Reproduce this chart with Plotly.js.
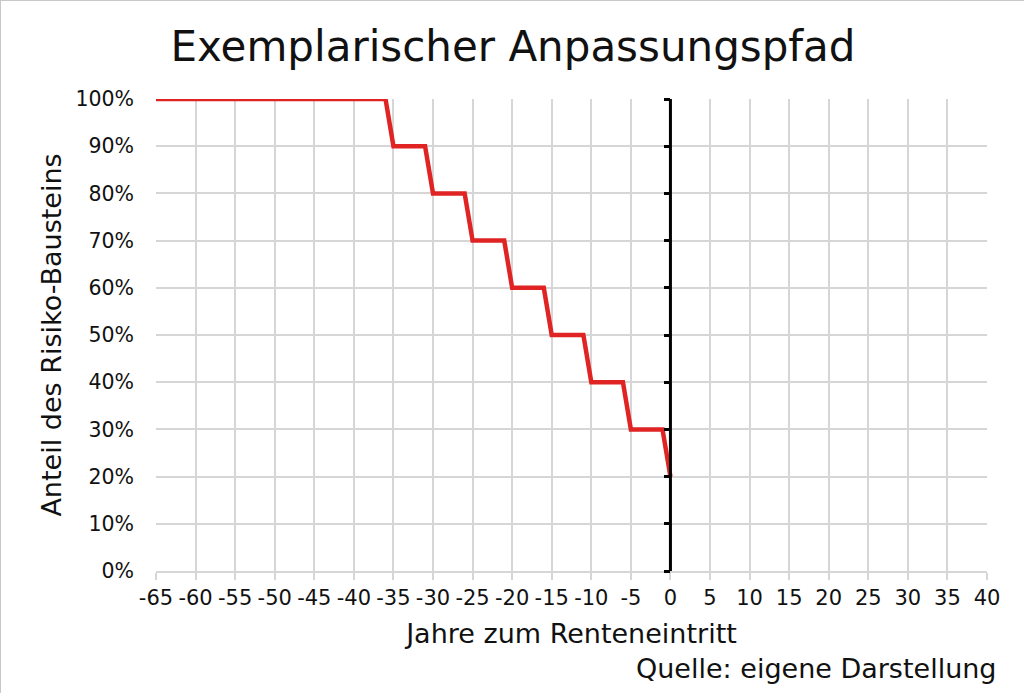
<!DOCTYPE html>
<html><head><meta charset="utf-8">
<script src="https://cdn.plot.ly/plotly-3.0.1.min.js"></script>
<style>html,body{margin:0;padding:0;background:#fff;}#chart{width:1024px;height:693px;box-sizing:border-box;border:1px solid #c8c8c8;}</style>
</head><body><div id="chart"></div>
<script>
const pathYears = [-65, -36, -35, -31, -30, -26, -25, -21, -20, -16, -15, -11, -10, -6, -5, -1, 0];
const pathShare = [1.0, 1.0, 0.9, 0.9, 0.8, 0.8, 0.7, 0.7, 0.6, 0.6, 0.5, 0.5, 0.4, 0.4, 0.3, 0.3, 0.2];
const retirementYear = [0, 0];
const retirementSpan = [0, 1.0];
const xTickValues = [-65, -60, -55, -50, -45, -40, -35, -30, -25, -20, -15, -10, -5, 0, 5, 10, 15, 20, 25, 30, 35, 40];
const xTickLabels = ['-65', '-60', '-55', '-50', '-45', '-40', '-35', '-30', '-25', '-20', '-15', '-10', '-5', '0', '5', '10', '15', '20', '25', '30', '35', '40'];
const xRange = [-65, 40];
const yRange = [0, 1.0];
const titleText = 'Exemplarischer Anpassungspfad';
const xTitle = 'Jahre zum Renteneintritt';
const yTitle = 'Anteil des Risiko-Bausteins';
const sourceText = 'Quelle: eigene Darstellung';

const font = '"DejaVu Sans", sans-serif';
const zeroPos = (0 - xRange[0]) / (xRange[1] - xRange[0]);
const grid = '#d6d6d6';

const traces = [
  {x: retirementYear, y: retirementSpan, yaxis: 'y2', mode: 'lines', line: {color: '#000', width: 3}, hoverinfo: 'skip', showlegend: false},
  {x: pathYears, y: pathShare, mode: 'lines', line: {color: '#e02424', width: 4.5}, showlegend: false}
];

const layout = {
  width: 1024, height: 693,
  margin: {l: 155, r: 38, t: 98, b: 123},
  paper_bgcolor: '#fff', plot_bgcolor: '#fff',
  font: {family: font, color: '#111', size: 18},
  title: {text: titleText, font: {family: font, size: 42, color: '#111'}, x: 0.5, xanchor: 'center', y: 0.934, yanchor: 'middle'},
  xaxis: {
    range: xRange, tickmode: 'array', tickvals: xTickValues, ticktext: xTickLabels,
    showgrid: true, gridcolor: grid, gridwidth: 2,
    zeroline: false, showline: true, linecolor: grid, linewidth: 2,
    ticks: 'outside', ticklen: 7, tickcolor: grid, tickwidth: 2,
    tickfont: {size: 21, family: font, color: '#111'},
    title: {text: xTitle, font: {size: 27, family: font, color: '#111'}, standoff: 15},
    fixedrange: true
  },
  yaxis: {
    range: yRange, dtick: 0.1, tickformat: '.0%', showgrid: true, gridcolor: grid, gridwidth: 2,
    zeroline: false, showline: false, ticks: '', ticklabelstandoff: 21,
    tickfont: {size: 20.5, family: font, color: '#111'},
    title: {text: yTitle, font: {size: 27, family: font, color: '#111'}, standoff: 5},
    fixedrange: true
  },
  yaxis2: {
    overlaying: 'y', anchor: 'free', position: zeroPos, side: 'left',
    range: yRange, dtick: 0.1, showgrid: false, zeroline: false,
    showline: false,
    ticks: 'outside', ticklen: 6, tickwidth: 3, tickcolor: '#000',
    showticklabels: false, fixedrange: true
  },
  annotations: [{
    text: sourceText, xref: 'paper', yref: 'paper', x: 1.015, y: -0.206,
    xanchor: 'right', yanchor: 'middle', showarrow: false,
    font: {size: 27, family: font, color: '#111'}
  }]
};

Plotly.newPlot('chart', traces, layout, {staticPlot: true, displayModeBar: false});
</script></body></html>
